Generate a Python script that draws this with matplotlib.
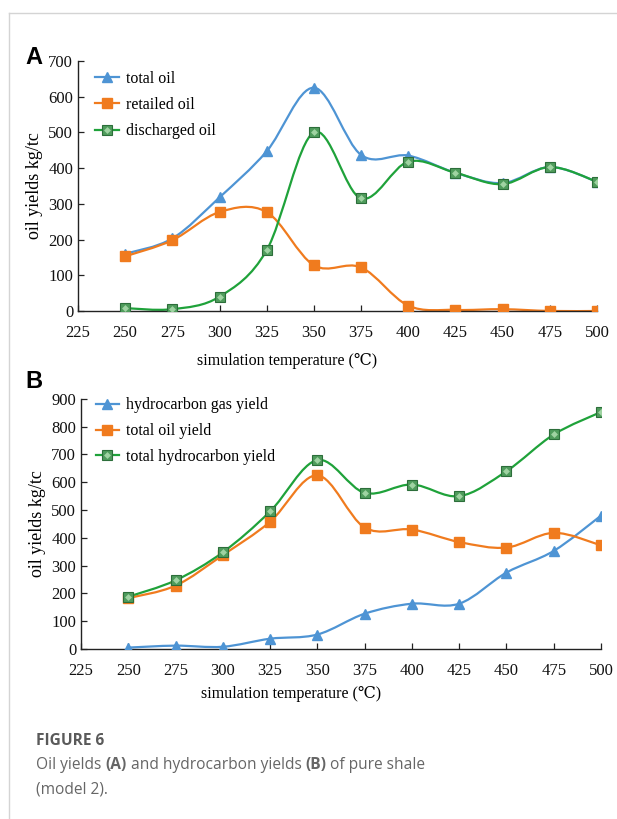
import numpy as np
import matplotlib
matplotlib.use("Agg")
import matplotlib.pyplot as plt
from matplotlib.path import Path
from matplotlib.patches import PathPatch
from matplotlib.lines import Line2D

temps = [250, 275, 300, 325, 350, 375, 400, 425, 450, 475, 500]

# panel A
total_oil = [160, 203, 318, 447, 625, 437, 435, 387, 358, 403, 362]
retailed_oil = [153, 198, 277, 277, 128, 122, 15, 3, 5, 0, 0]
discharged_oil = [8, 5, 40, 170, 500, 315, 418, 387, 355, 403, 362]

# panel B
gas_yield = [5, 12, 8, 37, 52, 127, 163, 163, 275, 353, 480]
total_oil_yield = [183, 228, 338, 458, 625, 437, 430, 385, 365, 418, 373]
total_hc_yield = [188, 247, 348, 495, 680, 562, 592, 550, 640, 772, 853]

x_ticks = [225, 250, 275, 300, 325, 350, 375, 400, 425, 450, 475, 500]

BLUE = '#4e94d4'
ORANGE = '#f07b1e'
GREEN = '#1fa23a'
SERIF = ['Liberation Serif', 'DejaVu Serif']

plt.rcParams['font.family'] = SERIF


def smooth_path(x, y):
    # excel-like smoothed line: catmull-rom segments as cubic beziers
    pts = np.column_stack([x, y]).astype(float)
    n = len(pts)
    verts = [pts[0]]
    codes = [Path.MOVETO]
    for i in range(n - 1):
        p0 = pts[i - 1] if i > 0 else pts[i]
        p1 = pts[i]
        p2 = pts[i + 1]
        p3 = pts[i + 2] if i + 2 < n else pts[i + 1]
        c1 = p1 + (p2 - p0) / 6.0
        c2 = p2 - (p3 - p1) / 6.0
        verts += [c1, c2, p2]
        codes += [Path.CURVE4] * 3
    return Path(verts, codes)


def draw_series(ax, y, color, kind):
    ax.add_patch(PathPatch(smooth_path(temps, y), fill=False, edgecolor=color,
                           lw=1.6, zorder=2))
    if kind == 'tri':
        ax.plot(temps, y, ls='none', marker='^', ms=7, color=color,
                mec=color, zorder=3)
    elif kind == 'sq':
        ax.plot(temps, y, ls='none', marker='s', ms=7, color=color,
                mec=color, zorder=3)
    else:
        ax.plot(temps, y, ls='none', marker='s', ms=7, mfc='#4f9c5c',
                mec='#2c6e3a', mew=0.8, zorder=3)
        ax.plot(temps, y, ls='none', marker='D', ms=3.5, mfc='#9fd3a2',
                mec='none', zorder=4)


def handles():
    h = [Line2D([], [], color=BLUE, lw=1.6, marker='^', ms=7),
         Line2D([], [], color=ORANGE, lw=1.6, marker='s', ms=7)]
    g1 = Line2D([], [], color=GREEN, lw=1.6, marker='s', ms=7,
                mfc='#4f9c5c', mec='#2c6e3a', mew=0.8)
    g2 = Line2D([], [], ls='none', marker='D', ms=3.5, mfc='#9fd3a2', mec='none')
    h.append((g1, g2))
    return h


def style_axes(ax, ymax, ystep):
    ax.set_xlim(225, 500)
    ax.set_ylim(0, ymax)
    ax.set_xticks(x_ticks)
    ax.set_yticks(np.arange(0, ymax + 1, ystep))
    for s in ['top', 'right']:
        ax.spines[s].set_visible(False)
    for s in ['left', 'bottom']:
        ax.spines[s].set_linewidth(1.0)
        ax.spines[s].set_color('#222222')
    ax.tick_params(direction='in', length=4, width=0.9, labelsize=12,
                   colors='#222222', labelcolor='#111111')
    ax.tick_params(axis='x', pad=10)
    ax.set_ylabel('oil yields kg/tc', fontsize=13, labelpad=4)
    ax.set_xlabel('simulation temperature (℃)', fontsize=11.5,
                  family=SERIF + ['Noto Sans CJK SC'])


fig = plt.figure(figsize=(6.17, 8.19), dpi=100)

labels_a = ['total oil', 'retailed oil', 'discharged oil']
axA = fig.add_axes([0.1264, 0.6203, 0.841, 0.3053])
draw_series(axA, total_oil, BLUE, 'tri')
draw_series(axA, retailed_oil, ORANGE, 'sq')
draw_series(axA, discharged_oil, GREEN, 'gr')
style_axes(axA, 700, 100)
axA.xaxis.set_label_coords(0.403, -0.17)
axA.legend(handles(), labels_a,
           loc='upper left', bbox_to_anchor=(0.015, 1.0), frameon=False,
           fontsize=11.5, handlelength=1.45, handletextpad=0.45,
           labelspacing=0.65, borderaxespad=0.2)

labels_b = ['hydrocarbon gas yield', 'total oil yield', 'total hydrocarbon yield']
axB = fig.add_axes([0.1313, 0.2076, 0.8428, 0.3053])
draw_series(axB, gas_yield, BLUE, 'tri')
draw_series(axB, total_oil_yield, ORANGE, 'sq')
draw_series(axB, total_hc_yield, GREEN, 'gr')
style_axes(axB, 900, 100)
axB.xaxis.set_label_coords(0.403, -0.15)
axB.legend(handles(), labels_b,
           loc='upper left', bbox_to_anchor=(0.01, 1.045), frameon=False,
           fontsize=11.5, handlelength=1.45, handletextpad=0.45,
           labelspacing=0.62, borderaxespad=0.2)

# panel letters
fig.text(25 / 617, 1 - 57 / 819, 'A', fontsize=17, fontweight='bold',
         family='Liberation Sans', va='center')
fig.text(25 / 617, 1 - 382 / 819, 'B', fontsize=17, fontweight='bold',
         family='Liberation Sans', va='center')

# frame lines
fig.add_artist(Line2D([9 / 617, 9 / 617], [0, 1 - 13 / 819], color='#d4d4d4',
                      lw=1.0, transform=fig.transFigure))
fig.add_artist(Line2D([9 / 617, 1], [1 - 13 / 819, 1 - 13 / 819], color='#d4d4d4',
                      lw=1.0, transform=fig.transFigure))

# caption
fig.text(36 / 617, 1 - 741 / 819, 'FIGURE 6', fontsize=11.2, fontweight='bold',
         family='Open Sans', color='#5a5a5a', va='center')

fig.canvas.draw()
renderer = fig.canvas.get_renderer()
parts = [('Oil yields ', 'normal'), ('(A)', 'bold'),
         (' and hydrocarbon yields ', 'normal'), ('(B)', 'bold'),
         (' of pure shale', 'normal')]
xpos = 36 / 617
for txt, w in parts:
    t = fig.text(xpos, 1 - 765 / 819, txt, fontsize=11.2, fontweight=w,
                 family='Open Sans', color='#666666', va='center')
    bb = t.get_window_extent(renderer)
    xpos += bb.width / fig.bbox.width
fig.text(36 / 617, 1 - 790 / 819, '(model 2).', fontsize=11.2,
         family='Open Sans', color='#666666', va='center')

fig.savefig('out.png', dpi=100)
